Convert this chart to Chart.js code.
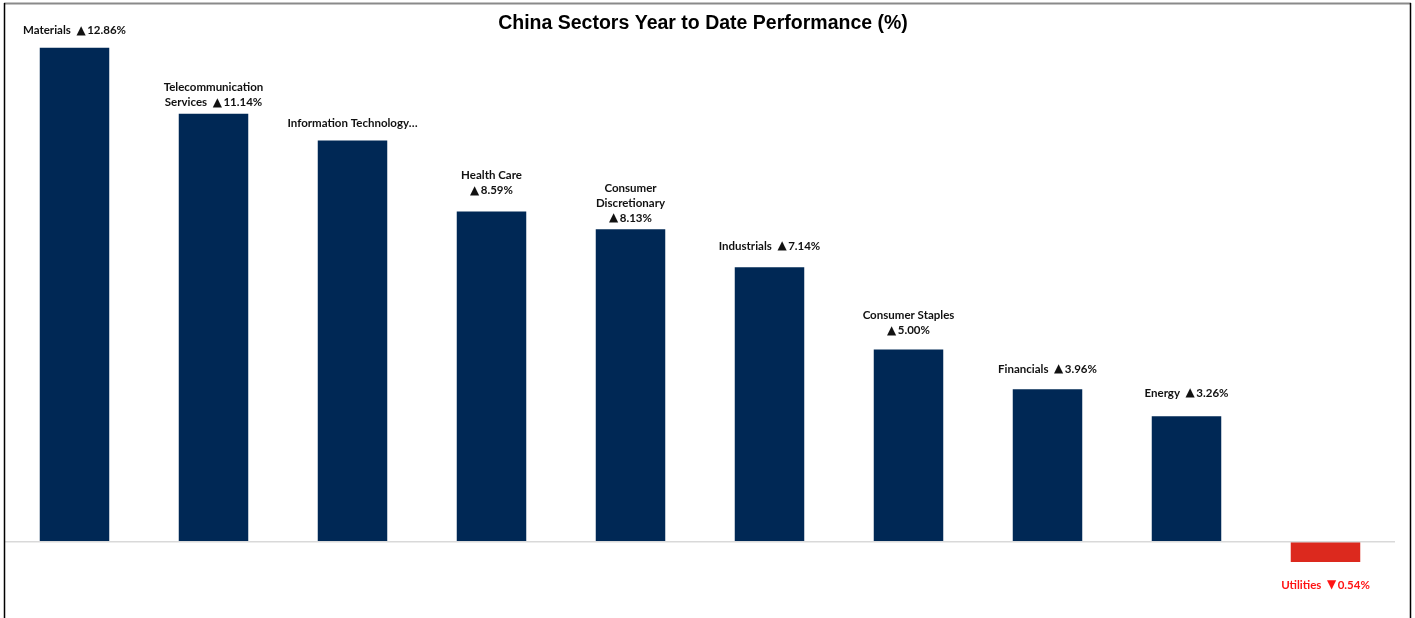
<!DOCTYPE html>
<html>
<head>
<meta charset="utf-8">
<script src="https://cdn.jsdelivr.net/npm/chart.js@4/dist/chart.umd.min.js"></script>
<style>
  html, body { margin: 0; padding: 0; background: #fff; }
  #wrap { position: relative; width: 1415px; height: 618px; }
</style>
</head>
<body>
<div id="wrap"><canvas id="c" width="1415" height="618"></canvas></div>
<script>
const chartTitle = "China Sectors Year to Date Performance (%)";
const sectors = ["Materials", "Telecommunication Services", "Information Technology", "Health Care",
  "Consumer Discretionary", "Industrials", "Consumer Staples", "Financials", "Energy", "Utilities"];
const performance = [12.86, 11.14, 10.44, 8.59, 8.13, 7.14, 5.00, 3.96, 3.26, -0.54];
// how each data label is broken into lines (text only)
const labelLines = [
  ["Materials  ▲12.86%"],
  ["Telecommunication", "Services  ▲11.14%"],
  ["Information Technology…"],
  ["Health Care", "▲8.59%"],
  ["Consumer", "Discretionary", "▲8.13%"],
  ["Industrials  ▲7.14%"],
  ["Consumer Staples", "▲5.00%"],
  ["Financials  ▲3.96%"],
  ["Energy  ▲3.26%"],
  ["Utilities  ▼0.54%"]
];
const yMin = -2, yMax = 14;

const POS = "#002855", NEG = "#DC291E";

function drawMixed(ctx, text, cx, cy, textFont, symFont) {
  const runs = [];
  let cur = "";
  for (const ch of text) {
    if (ch === "▲" || ch === "▼") {
      if (cur) runs.push([cur, textFont]);
      runs.push([ch, symFont]);
      cur = "";
    } else cur += ch;
  }
  if (cur) runs.push([cur, textFont]);
  let total = 0;
  runs.forEach(r => { ctx.font = r[1]; r.push(ctx.measureText(r[0]).width + (r[1] === symFont ? 1.5 : 0)); total += r[2]; });
  let x = cx - total / 2;
  ctx.textAlign = "left";
  runs.forEach(r => { ctx.font = r[1]; ctx.fillText(r[0], x, cy); x += r[2]; });
}

const decor = {
  id: "decor",
  afterDatasetsDraw(chart, args, opts) {
    const ctx = chart.ctx;
    const xs = chart.scales.x, ys = chart.scales.y;
    const y0 = ys.getPixelForValue(0);
    const gaps = opts.labelGaps;
    ctx.save();
    ctx.strokeStyle = "#d9d9d9";
    ctx.lineWidth = 1.5;
    ctx.beginPath(); ctx.moveTo(5, y0 + 0.5); ctx.lineTo(1395, y0 + 0.5); ctx.stroke();
    const tf = "bold 11.5px Lato, 'Open Sans', sans-serif";
    const sf = "bold 12px 'DejaVu Sans', sans-serif";
    ctx.textBaseline = "middle";
    const lh = 15;
    performance.forEach((v, i) => {
      const x = xs.getPixelForValue(i);
      const yv = ys.getPixelForValue(v);
      const lines = labelLines[i];
      if (v >= 0) {
        ctx.fillStyle = "#111111";
        const last = yv - gaps[i];
        lines.forEach((t, k) => drawMixed(ctx, t, x, last - (lines.length - 1 - k) * lh, tf, sf));
      } else {
        ctx.fillStyle = "#FF1414";
        const first = yv + gaps[i];
        lines.forEach((t, k) => drawMixed(ctx, t, x, first + k * lh, tf, sf));
      }
    });
    ctx.fillStyle = "#000";
    ctx.textAlign = "center";
    ctx.font = "bold 19.5px 'Liberation Sans', Arial, sans-serif";
    ctx.fillText(chartTitle, 703, 24);
    ctx.strokeStyle = "#8a8a8a";
    ctx.lineWidth = 2;
    ctx.beginPath(); ctx.moveTo(4, 3.5); ctx.lineTo(1411, 3.5); ctx.stroke();
    ctx.strokeStyle = "#000";
    ctx.lineWidth = 1.5;
    ctx.beginPath(); ctx.moveTo(4.5, 3); ctx.lineTo(4.5, 618); ctx.stroke();
    ctx.beginPath(); ctx.moveTo(1410.5, 3); ctx.lineTo(1410.5, 618); ctx.stroke();
    ctx.restore();
  }
};

new Chart(document.getElementById("c"), {
  type: "bar",
  data: {
    labels: sectors,
    datasets: [{
      data: performance,
      backgroundColor: performance.map(v => v >= 0 ? POS : NEG),
      borderWidth: 0,
      barPercentage: 0.5,
      categoryPercentage: 1.0
    }]
  },
  options: {
    responsive: false,
    animation: false,
    layout: { padding: { left: 5, right: 20, top: 4, bottom: 0 } },
    plugins: {
      legend: { display: false }, tooltip: { enabled: false }, title: { display: false },
      decor: { labelGaps: [17, 11, 17, 21, 11, 21, 19, 20, 23, 23] }
    },
    scales: {
      x: { display: false, offset: true },
      y: { display: false, min: yMin, max: yMax }
    }
  },
  plugins: [decor]
});
</script>
</body>
</html>
